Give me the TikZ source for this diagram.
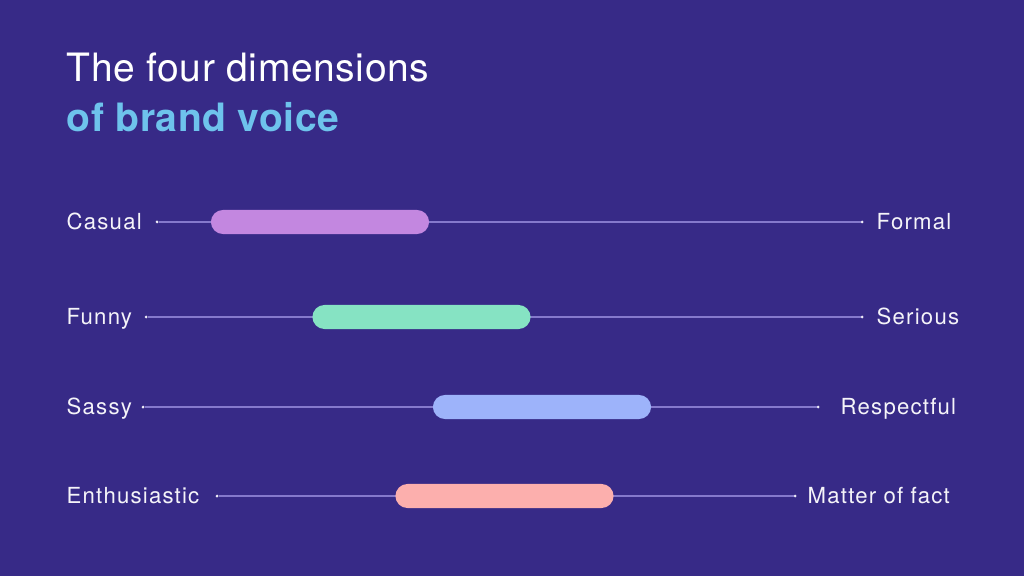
\documentclass[tikz,border=0pt]{standalone}
\usepackage{fontspec}
\setmainfont{TeX Gyre Heros}
\newfontfamily\headfont[LetterSpace=1.5]{TeX Gyre Heros}
\newfontfamily\polefont[LetterSpace=5.5]{TeX Gyre Heros}
\usetikzlibrary{positioning}
\definecolor{bgnavy}{HTML}{372A87}
\definecolor{titleblue}{HTML}{6EC3EC}
\definecolor{trackcol}{HTML}{8579CC}
\definecolor{casualbar}{HTML}{C387E0}
\definecolor{funnybar}{HTML}{86E3C3}
\definecolor{sassybar}{HTML}{9DB3FA}
\definecolor{enthbar}{HTML}{FCAFAD}
\tikzstyle{heading} = [anchor=base west,inner sep=0pt,font=\headfont\fontsize{11.1}{13}\selectfont]
\tikzstyle{pole} = [anchor=base west,inner sep=0pt,text=white!95!bgnavy,font=\polefont\fontsize{6.3}{7.5}\selectfont]
\tikzstyle{track} = [draw=trackcol,line width=0.45pt]
\tikzstyle{tick} = [circle,fill=white!85!trackcol,minimum size=0.03cm,inner sep=0pt,outer sep=0pt]
\tikzstyle{bar} = [rounded corners=0.12cm,minimum width=2.18cm,minimum height=0.24cm,inner sep=0pt]
\def \lift {7.5}

\begin{document}
\begin{tikzpicture}[x=0.01cm,y=-0.01cm]
  \fill[bgnavy] (0,0) rectangle (1024,576);
  \useasboundingbox (0,0) rectangle (1024,576);
  \node[heading,text=white] (title) at (66,82) {The four dimensions};
  \node[heading,text=titleblue,font=\headfont\fontsize{11.1}{13}\selectfont\bfseries] (subtitle) at (66,132) {of brand voice};
  % casual / formal
  \node[pole] (casual) at (66,222+\lift) {Casual};
  \node[tick] (c1) at (157,222) {};
  \node[tick] (c2) at (862,222) {};
  \node[pole] (formal) at (876,222+\lift) {Formal};
  \draw[track] (c1) -- (c2);
  \node[bar,fill=casualbar] (cbar) at (320,222) {};
  % funny / serious
  \node[pole] (funny) at (66,317+\lift) {Funny};
  \node[tick] (f1) at (146,317) {};
  \node[tick] (f2) at (862,317) {};
  \node[pole] (serious) at (876,317+\lift) {Serious};
  \draw[track] (f1) -- (f2);
  \node[bar,fill=funnybar] (fbar) at (421.5,317) {};
  % sassy / respectful
  \node[pole] (sassy) at (66,407+\lift) {Sassy};
  \node[tick] (s1) at (143,407) {};
  \node[tick] (s2) at (818,407) {};
  \node[pole] (respectful) at (840,407+\lift) {Respectful};
  \draw[track] (s1) -- (s2);
  \node[bar,fill=sassybar] (sbar) at (542,407) {};
  % enthusiastic / matter of fact
  \node[pole] (enthusiastic) at (66,496+\lift) {Enthusiastic};
  \node[tick] (e1) at (217,496) {};
  \node[tick] (e2) at (795,496) {};
  \node[pole] (matter) at (807,496+\lift) {Matter of fact};
  \draw[track] (e1) -- (e2);
  \node[bar,fill=enthbar] (ebar) at (504.5,496) {};
\end{tikzpicture}
\end{document}
